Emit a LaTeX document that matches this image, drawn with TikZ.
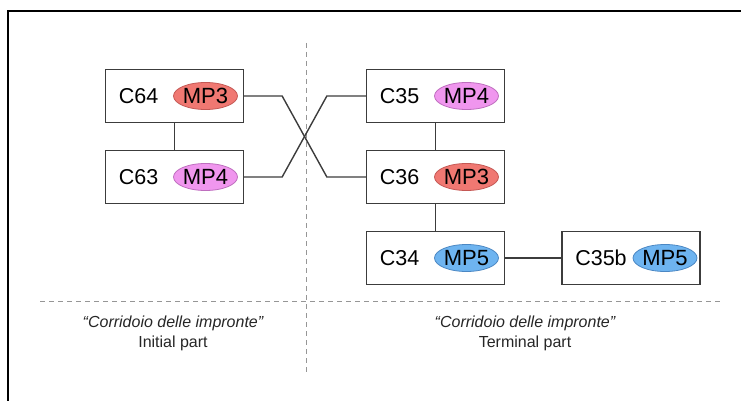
\documentclass[tikz,border=0pt]{standalone}
\usepackage{fontspec}
\setmainfont{Liberation Sans}
\usetikzlibrary{shapes.geometric}
\definecolor{mpred}{RGB}{240,120,114}
\definecolor{mpredd}{RGB}{196,88,84}
\definecolor{mpvio}{RGB}{240,150,238}
\definecolor{mpviod}{RGB}{190,110,190}
\definecolor{mpblue}{RGB}{110,180,240}
\definecolor{mpblued}{RGB}{75,135,195}
\definecolor{boxc}{RGB}{60,60,60}
\definecolor{dashc}{RGB}{150,150,150}
\begin{document}
\begin{tikzpicture}[x=1pt,y=-1pt,
  box/.style={draw=boxc, line width=1.3pt, minimum width=138pt, minimum height=53pt, inner sep=0pt},
  lab/.style={inner sep=0pt, font=\fontsize{21.5}{21.5}\selectfont},
  mp/.style={ellipse, inner sep=0pt, minimum width=60pt, minimum height=27pt, line width=0.8pt, font=\fontsize{22}{22}\selectfont},
  mpr/.style={mp, fill=mpred, draw=mpredd},
  mpv/.style={mp, fill=mpvio, draw=mpviod},
  mpb/.style={mp, fill=mpblue, draw=mpblued},
  link/.style={draw=boxc, line width=1.4pt},
  sep/.style={draw=dashc, line width=0.9pt, dash pattern=on 5pt off 4pt},
  captext/.style={align=center, inner sep=0pt, font=\fontsize{16}{20}\selectfont, text=black!85}
]
\useasboundingbox (0,0) rectangle (741,401);
% frame
\coordinate (f1) at (741,11);
\coordinate (f2) at (8,11);
\coordinate (f3) at (8,401);
\draw[line width=1.4pt] (f1) -- (f2) -- (f3);
% separators
\coordinate (h1) at (40,301);
\coordinate (h2) at (722,301);
\coordinate (v1) at (306,43);
\coordinate (v2) at (306,372);
\draw[sep] (h1) -- (h2);
\draw[sep] (v1) -- (v2);
% boxes
\node[box] (b64) at (174.5,96) {};
\node[box] (b63) at (174.5,177) {};
\node[box] (b35) at (435.5,96) {};
\node[box] (b36) at (435.5,177) {};
\node[box] (b34) at (435.5,258) {};
\node[box] (b35b) at (631,258) {};
% labels
\node[lab] (l64) at ([xshift=-36pt]b64.center) {C64};
\node[lab] (l63) at ([xshift=-36pt]b63.center) {C63};
\node[lab] (l35) at ([xshift=-36pt]b35.center) {C35};
\node[lab] (l36) at ([xshift=-36pt]b36.center) {C36};
\node[lab] (l34) at ([xshift=-36pt]b34.center) {C34};
\node[lab] (l35b) at ([xshift=-30pt]b35b.center) {C35b};
\node[mpr] (m64) at ([xshift=31pt]b64.center) {MP3};
\node[mpv] (m63) at ([xshift=31pt]b63.center) {MP4};
\node[mpv] (m35) at ([xshift=31pt]b35.center) {MP4};
\node[mpr] (m36) at ([xshift=31pt]b36.center) {MP3};
\node[mpb] (m34) at ([xshift=31pt]b34.center) {MP5};
\node[mpb] (m35b) at ([xshift=34pt]b35b.center) {MP5};
% links
\draw[link] (b64) -- (b63);
\draw[link] (b35) -- (b36);
\draw[link] (b36) -- (b34);
\draw[link] (b34) -- (b35b);
\draw[link] (b64.east) -- ++(38,0) -- ([xshift=-39pt]b36.west) -- (b36.west);
\draw[link] (b63.east) -- ++(38,0) -- ([xshift=-39pt]b35.west) -- (b35.west);
% captions
\node[captext] (c1) at (173,333) {\itshape\char"201C Corridoio delle impronte\char"201D\\Initial part};
\node[captext] (c2) at (525,333) {\itshape\char"201C Corridoio delle impronte\char"201D\\Terminal part};
\end{tikzpicture}
\end{document}
